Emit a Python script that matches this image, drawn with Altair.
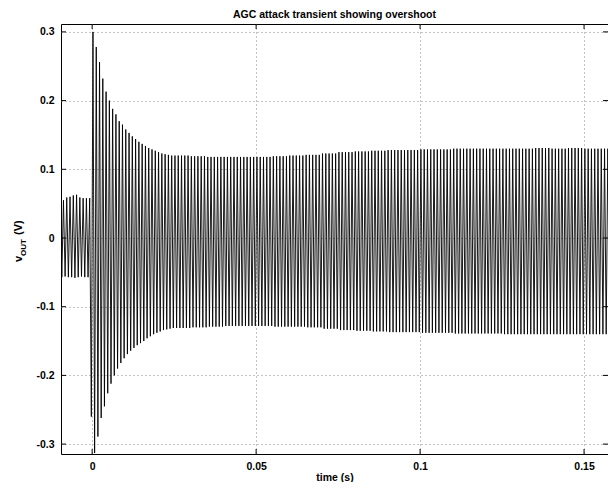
import altair as alt
import pandas as pd

# ---- data ----
HALF_PERIOD = 0.0005          # 1 kHz tone, one extreme every half period
T_START = -0.00975            # time of first plotted extreme

# pre-attack extremes (before t = 0)
pre_peaks = [0.058, 0.055, 0.059, 0.060, 0.062, 0.063, 0.059, 0.058, 0.058, 0.058]
pre_troughs = [-0.057, -0.056, -0.057, -0.057, -0.058, -0.057, -0.056, -0.057, -0.057]
onset_trough = [-0.26]

# attack transient, one value per cycle (first 25 cycles after t = 0)
attack_peaks = [0.300, 0.278, 0.256, 0.232, 0.213, 0.200, 0.188, 0.180, 0.170, 0.165,
                0.158, 0.153, 0.148, 0.144, 0.140, 0.137, 0.134, 0.131, 0.129, 0.127,
                0.125, 0.123, 0.122, 0.121, 0.120]
attack_troughs = [-0.313, -0.289, -0.262, -0.245, -0.226, -0.212, -0.200, -0.190, -0.182, -0.175,
                  -0.169, -0.164, -0.160, -0.156, -0.153, -0.150, -0.146, -0.143, -0.140, -0.138,
                  -0.136, -0.134, -0.133, -0.132, -0.131]

# settled part, one value per 5-cycle block (t = 0.025 ... 0.16)
steady_upper = [0.120, 0.119, 0.118, 0.118, 0.118, 0.118, 0.119, 0.120, 0.121, 0.123,
                0.125, 0.126, 0.127, 0.128, 0.128, 0.129, 0.129, 0.130, 0.130, 0.130,
                0.130, 0.130, 0.131, 0.130, 0.131, 0.130, 0.130]
steady_lower = [-0.131, -0.130, -0.129, -0.128, -0.128, -0.128, -0.129, -0.129, -0.130, -0.132,
                -0.134, -0.135, -0.136, -0.137, -0.137, -0.138, -0.138, -0.139, -0.139, -0.139,
                -0.140, -0.140, -0.140, -0.140, -0.140, -0.140, -0.140]
CYCLES_PER_BLOCK = 5

x_ticks = [0, 0.05, 0.1, 0.15]
y_ticks = [-0.3, -0.2, -0.1, 0, 0.1, 0.2, 0.3]

# ---- build the waveform table ----
peaks_all = pre_peaks + attack_peaks + [u for u in steady_upper for _ in range(CYCLES_PER_BLOCK)]
troughs_all = pre_troughs + onset_trough + attack_troughs + [l for l in steady_lower for _ in range(CYCLES_PER_BLOCK)]
vals = []
for p, q in zip(peaks_all, troughs_all):
    vals.extend([p, q])
times = [T_START + i * HALF_PERIOD for i in range(len(vals))]
df = pd.DataFrame({"t": times, "v": vals})

W, H = 547, 430
FONT = "Liberation Sans"
xscale = alt.Scale(domain=[-0.0095, 0.1573], nice=False, zero=False)
yscale = alt.Scale(domain=[-0.3144, 0.3115], nice=False, zero=False)
label_expr = "replace(format(datum.value, '~g'), '\u2212', '-')"

line = alt.Chart(df).mark_line(color="black", strokeWidth=0.9, clip=True).encode(
    x=alt.X("t:Q", scale=xscale,
            axis=alt.Axis(values=x_ticks, title="time (s)", grid=True, gridDash=[1, 3],
                          gridColor="#888", gridWidth=1, ticks=False, domain=False,
                          labelExpr=label_expr, labelPadding=7, titlePadding=1)),
    y=alt.Y("v:Q", scale=yscale,
            axis=alt.Axis(values=y_ticks, title=None, grid=True, gridDash=[1, 3],
                          gridColor="#888", gridWidth=1, ticks=False, domain=False,
                          labelExpr=label_expr, labelPadding=7)),
)

xt = pd.DataFrame({"t": x_ticks})
yt = pd.DataFrame({"v": y_ticks})
tick_top = alt.Chart(xt).mark_rule(color="black").encode(
    x=alt.X("t:Q", scale=xscale), y=alt.value(0), y2=alt.value(5))
tick_bot = alt.Chart(xt).mark_rule(color="black").encode(
    x=alt.X("t:Q", scale=xscale), y=alt.value(H - 5), y2=alt.value(H))
tick_left = alt.Chart(yt).mark_rule(color="black").encode(
    y=alt.Y("v:Q", scale=yscale), x=alt.value(0), x2=alt.value(5))
tick_right = alt.Chart(yt).mark_rule(color="black").encode(
    y=alt.Y("v:Q", scale=yscale), x=alt.value(W - 5), x2=alt.value(W))

one = pd.DataFrame({"a": [0]})
ylab_v = alt.Chart(one).mark_text(text="v", angle=270, align="left", baseline="alphabetic",
                                  font=FONT, fontWeight="bold", fontSize=11).encode(
    x=alt.value(-39), y=alt.value(238))
ylab_out = alt.Chart(one).mark_text(text="OUT", angle=270, align="left", baseline="alphabetic",
                                    font=FONT, fontWeight="bold", fontSize=8).encode(
    x=alt.value(-35.5), y=alt.value(232))
ylab_unit = alt.Chart(one).mark_text(text="(V)", angle=270, align="left", baseline="alphabetic",
                                     font=FONT, fontWeight="bold", fontSize=11).encode(
    x=alt.value(-39), y=alt.value(211))

chart = alt.layer(line, tick_top, tick_bot, tick_left, tick_right,
                  ylab_v, ylab_out, ylab_unit).properties(
    width=W, height=H,
    title=alt.TitleParams("AGC attack transient showing overshoot", font=FONT, fontSize=10.5,
                          fontWeight="bold", offset=3, anchor="middle", color="black"),
    autosize=alt.AutoSizeParams(type="none"),
    padding={"left": 53, "top": 16, "right": 0, "bottom": 28},
).configure_view(stroke="black", strokeWidth=1).configure_axis(
    labelFont=FONT, labelFontWeight="bold", labelFontSize=10.5, labelColor="black",
    titleFont=FONT, titleFontWeight="bold", titleFontSize=10.5, titleColor="black",
)

chart.save("out.html", embed_options={"renderer": "svg", "actions": False})
